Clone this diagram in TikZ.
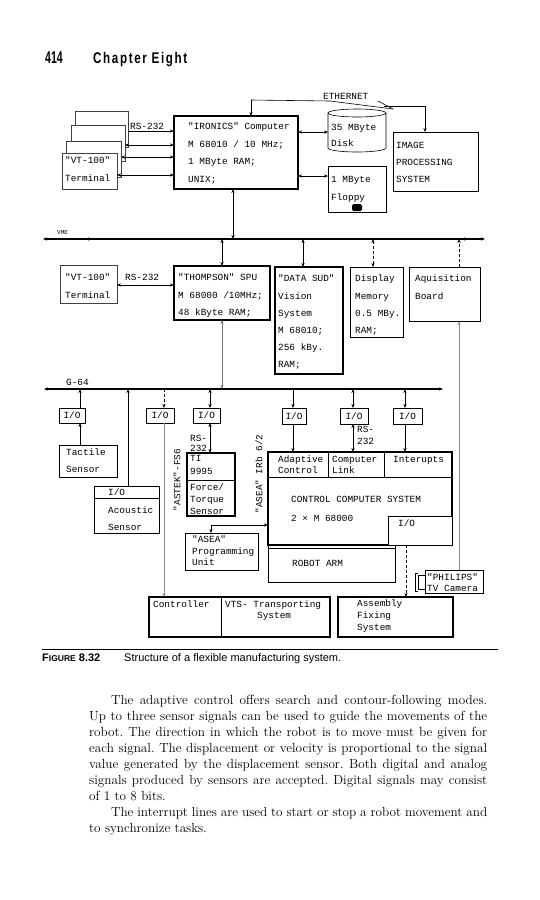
\documentclass[tikz,border=0pt]{standalone}
\usepackage{graphicx}
\usepackage{fontspec}
\setmonofont{Liberation Mono}
\newfontfamily\sans{Liberation Sans}
\newfontfamily\headfont[LetterSpace=14]{Liberation Sans}
\usetikzlibrary{arrows.meta}
\newcounter{tn}
\begin{document}
\begin{tikzpicture}[x=1pt,y=-1pt,
  >={Stealth[length=4pt,width=3.2pt]},
  box/.style={draw, line width=0.7pt, rectangle, anchor=north west, inner sep=0pt, outer sep=0pt, fill=white, font=\ttfamily\fontsize{9.4}{10}\selectfont},
  bbox/.style={box, line width=1.2pt},
  txt/.style={font=\ttfamily\fontsize{9.4}{10}\selectfont, anchor=base west, inner sep=0pt},
  ln/.style={line width=0.6pt},
  gln/.style={line width=0.6pt, draw=black!45},
  bus/.style={line width=1.2pt}]
\newcommand\mybox[6][]{\node[box,#1,minimum width={#4pt-#2pt},minimum height={#5pt-#3pt}] (#6) at (#2,#3) {};}
\newcommand\iobox[5]{\node[box,minimum width={#3pt-#1pt},minimum height={#4pt-#2pt}] (#5) at (#1,#2) {I/O};}
\newcommand\tl[4][]{\stepcounter{tn}\node[txt,#1] (t\arabic{tn}) at (#2,#3) {#4};}
\useasboundingbox[fill=white] (0,0) rectangle (539,900);

% header
\node[anchor=base west, inner sep=0pt, font=\sans\bfseries\fontsize{17}{17}\selectfont] (pgnum) at (45,63) {\scalebox{0.62}[1]{414}};
\node[anchor=base west, inner sep=0pt, font=\headfont\bfseries\fontsize{15.5}{15.5}\selectfont] (chap) at (93,63) {\scalebox{0.75}[1]{Chapter Eight}};

% ---------- top row ----------
\mybox[draw=black!75]{75}{111}{128}{147}{tA}
\mybox[draw=black!75]{71}{125}{125}{161}{tB}
\mybox[draw=black!75]{66}{141}{121}{177}{tC}
\mybox[draw=black!75]{62}{153}{117}{189}{vt1}
\tl{65}{163}{"VT-100"}
\tl{65}{181}{Terminal}
\tl{130}{129}{RS-232}

\mybox[bbox]{174}{116}{298}{189}{ironics}
\tl{188}{129}{"IRONICS" Computer}
\tl{188}{147}{M 68010 / 10 MHz;}
\tl{188}{164}{1 MByte RAM;}
\tl{188}{182}{UNIX;}

\coordinate (r1) at (0,131); \coordinate (r2) at (0,145);
\coordinate (r3) at (0,157); \coordinate (r4) at (0,175);
\draw[ln,->] (tA.east |- r1) -- (ironics.west |- r1);
\draw[ln,<->] (tB.east |- r2) -- (ironics.west |- r2);
\draw[ln,<->] (tC.east |- r3) -- (ironics.west |- r3);
\draw[ln,<->] (vt1.east |- r4) -- (ironics.west |- r4);

% disk
\node[box, draw=none, fill=none, minimum width=58pt, minimum height=40pt] (disk) at (328,111) {};
\draw[ln, fill=white] (328,113) -- (328,148) arc[start angle=180, end angle=0, x radius=29, y radius=4] -- (386,113);
\draw[ln] (357,113) ellipse[x radius=29, y radius=4];
\tl{331}{130}{35 MByte}
\tl{331}{146}{Disk}

\mybox{328}{166}{386}{212}{floppy}
\tl{331}{182}{1 MByte}
\tl{331}{200}{Floppy}
\fill[rounded corners=1.5pt] (352,204) rectangle (362,211);

\mybox{393}{132}{478}{191}{imgproc}
\tl{396}{148}{IMAGE}
\tl{396}{165}{PROCESSING}
\tl{396}{182}{SYSTEM}

\coordinate (r5) at (0,132); \coordinate (r6) at (0,176);
\draw[ln,<->] (ironics.east |- r5) -- (disk.west |- r5);
\draw[ln,<->] (ironics.east |- r6) -- (floppy.west |- r6);

% ethernet
\coordinate (eth1) at (251,100);
\coordinate (eth2) at (378,101);
\coordinate (eth3) at (393,109);
\coordinate (eth4) at (384,106);
\coordinate (eth5) at (425,106);
\draw[ln,->] (eth1) -- (ironics.north -| eth1);
\draw[ln] (eth1) -- (330,101) -- (eth3);
\draw[ln] (eth2) -- (eth3);
\draw[ln,->] (eth4) -- (eth5) -- (imgproc.north -| eth5);
\tl{323}{99}{ETHERNET}

% VME bus
\coordinate (vmeL) at (43,239); \coordinate (vmeR) at (485,239);
\draw[bus,<->] (vmeL) -- (vmeR);
\draw[bus,->] (80,239) -- (92,239);
\draw[bus,->] (455,239) -- (468,239);
\node[font=\ttfamily\fontsize{6}{6}\selectfont, anchor=base west, inner sep=0pt] (vmelab) at (57,234) {VME};
\coordinate (xI) at (233,0);
\draw[ln,<->] (ironics.south -| xI) -- (vmeL -| xI);

% ---------- second row ----------
\mybox[draw=black!75]{60}{265}{117}{303}{vt2}
\tl{65}{280}{"VT-100"}
\tl{65}{298}{Terminal}
\tl{125}{280}{RS-232}

\mybox[bbox]{174}{266}{270}{320}{thomp}
\tl{178}{280}{"THOMPSON" SPU}
\tl{178}{298}{M 68000 /10MHz;}
\tl{178}{315}{48 kByte RAM;}

\mybox[bbox]{275}{267}{343}{374}{datasud}
\tl{278}{281}{"DATA SUD"}
\tl{278}{299}{Vision}
\tl{278}{316}{System}
\tl{278}{333}{M 68010;}
\tl{278}{350}{256 kBy.}
\tl{278}{367}{RAM;}

\mybox{350}{267}{403}{337}{dispmem}
\tl{355}{281}{Display}
\tl{355}{299}{Memory}
\tl{355}{316}{0.5 MBy.}
\tl{355}{333}{RAM;}

\mybox{409}{267}{480}{321}{aquis}
\tl{415}{281}{Aquisition}
\tl{415}{299}{Board}

\coordinate (xT) at (222,0); \coordinate (xD) at (303,0);
\coordinate (xM) at (373,0); \coordinate (xA) at (459,0);
\draw[ln,<->] (vmeL -| xT) -- (thomp.north -| xT);
\draw[ln,<->] (vmeL -| xD) -- (datasud.north -| xD);
\draw[ln,<->,densely dashed] (vmeL -| xM) -- (dispmem.north -| xM);
\draw[ln,->,densely dashed] (aquis.north -| xA) -- (vmeL -| xA);
\coordinate (r7) at (0,285);
\draw[ln,<->] (vt2.east |- r7) -- (thomp.west |- r7);

% G-64 bus
\coordinate (gL) at (44,389); \coordinate (gR) at (443,389);
\draw[bus,<->] (gL) -- (gR);
\tl{66}{385}{G-64}
\draw[ln,<->,draw=black!55] (thomp.south -| xT) -- (gL -| xT);

% ---------- third row ----------
\iobox{59}{408}{85}{423}{io1}
\iobox{146}{408}{174}{423}{io2}
\iobox{193}{408}{220}{423}{io3}
\iobox{282}{408}{306}{424}{io4}
\iobox{340}{408}{368}{424}{io5}
\iobox{393}{408}{422}{424}{io6}

\mybox{59}{445}{117}{477}{tactile}
\tl{66}{455}{Tactile}
\tl{66}{472}{Sensor}

\mybox{94}{486}{159}{533}{acoustic}
\coordinate (d1) at (0,498);
\draw[ln] (acoustic.west |- d1) -- (acoustic.east |- d1);
\tl{108}{495}{I/O}
\tl{108}{513}{Acoustic}
\tl{108}{530}{Sensor}

\mybox[bbox]{187}{453}{235}{516}{ti}
\coordinate (d2) at (0,480);
\draw[line width=1pt] (ti.west |- d2) -- (ti.east |- d2);
\tl{190}{461}{TI}
\tl{190}{474}{9995}
\tl{190}{490}{Force/}
\tl{190}{502}{Torque}
\tl{190}{514}{Sensor}
\tl{190}{441}{RS-}
\tl{190}{451}{232}
\node[txt, anchor=center, rotate=90] (astek) at (177,480) {"ASTEK"-FS6};
\node[txt, anchor=center, rotate=90] (aseairb) at (259,474) {"ASEA" IRb 6/2};

\mybox{185}{533}{258}{570}{aseapu}
\tl{192}{542}{"ASEA"}
\tl{192}{554}{Programming}
\tl{192}{565}{Unit}

\mybox[bbox]{268}{452}{452}{545}{ccs}
\coordinate (h1) at (0,477);
\coordinate (v1) at (328,0); \coordinate (v2) at (384,0);
\draw[ln] (ccs.west |- h1) -- (ccs.east |- h1);
\draw[ln] (ccs.north -| v1) -- (h1 -| v1);
\draw[ln] (ccs.north -| v2) -- (h1 -| v2);
\tl{278}{462}{Adaptive}
\tl{278}{473}{Control}
\tl{332}{462}{Computer}
\tl{332}{473}{Link}
\tl{393}{462}{Interupts}
\tl{291}{502}{CONTROL COMPUTER SYSTEM}
\tl{291}{521}{2 × M 68000}
\mybox[line width=0.7pt]{388}{516}{452}{545}{ccsio}
\tl{398}{526}{I/O}
\tl{357}{432}{RS-}
\tl{357}{444}{232}

\mybox[line width=1pt]{268}{545}{395}{582}{robot}
\coordinate (h2) at (0,548);
\draw[ln] (robot.west |- h2) -- (robot.east |- h2);
\tl{292}{566}{ROBOT ARM}

\coordinate (pc) at (211,525);
\draw[ln,<->] (aseapu.north -| pc) -- (pc) -- (ccs.west |- pc);

% camera
\mybox{425}{570}{483}{593}{camera}
\draw[ln] (418,575) rectangle (425,589);
\draw[ln] (418,573) -- (415,573) -- (415,591) -- (418,591);
\tl{427}{580}{"PHILIPS"}
\tl{427}{591}{TV Camera}

% bottom row
\mybox[bbox]{149}{597}{330}{637}{ctrl}
\coordinate (v3) at (221,0);
\draw[ln] (ctrl.north -| v3) -- (ctrl.south -| v3);
\tl{153}{607}{Controller}
\tl{225}{607}{VTS- Transporting}
\tl{257}{618}{System}

\mybox[bbox]{338}{597}{453}{637}{assembly}
\tl{357}{606}{Assembly}
\tl{357}{618}{Fixing}
\tl{357}{630}{System}

% connectors row 3
\coordinate (x1) at (80,0); \coordinate (x2) at (128,0);
\coordinate (x3) at (164,0); \coordinate (x4) at (210,0);
\coordinate (x5) at (293,0); \coordinate (x6) at (353,0);
\coordinate (x7) at (405,0); \coordinate (xR) at (406,0);
\draw[ln,->] (io1.north -| x1) -- (gL -| x1);
\draw[ln,->] (tactile.north -| x1) -- (io1.south -| x1);
\draw[ln,->] (acoustic.north -| x2) -- (gL -| x2);
\draw[ln,->,densely dashed] (gL -| x3) -- (io2.north -| x3);
\draw[gln,->] (io2.south -| x3) -- (ctrl.north -| x3);
\draw[ln,<->] (gL -| x4) -- (io3.north -| x4);
\draw[ln,<->] (io3.south -| x4) -- (ti.north -| x4);
\draw[ln,->] (gL -| x5) -- (io4.north -| x5);
\draw[ln,->] (io4.south -| x5) -- (ccs.north -| x5);
\draw[ln,<->] (gL -| x6) -- (io5.north -| x6);
\draw[ln,<->] (io5.south -| x6) -- (ccs.north -| x6);
\draw[ln,<->] (gL -| x7) -- (io6.north -| x7);
\draw[ln,->] (io6.south -| x7) -- (ccs.north -| x7);
\draw[ln,->,densely dashed] (ccsio.south -| xR) -- (assembly.north -| xR);
\draw[gln,->] (camera.north -| xA) -- (aquis.south -| xA);

% caption
\coordinate (capL) at (42,649); \coordinate (capR) at (498,649);
\draw[line width=0.8pt] (capL) -- (capR);
\node[anchor=base west, inner sep=0pt, font=\sans\bfseries\fontsize{11}{11}\selectfont] (figlab) at (42,661) {F{\fontsize{8.5}{8.5}\selectfont IGURE} 8.32};
\node[anchor=base west, inner sep=0pt, font=\sans\fontsize{11}{11}\selectfont] (captxt) at (124,661) {Structure of a flexible manufacturing system.};

% body text
\node[anchor=base west, inner sep=0pt] (body) at (89,704) {\parbox[t]{398pt}{\fontsize{13.2}{16}\selectfont\frenchspacing
\hspace*{22pt}The adaptive control offers search and contour-following modes.\linebreak
Up to three sensor signals can be used to guide the movements of the\linebreak
robot. The direction in which the robot is to move must be given for\linebreak
each signal. The displacement or velocity is proportional to the signal\linebreak
value generated by the displacement sensor. Both digital and analog\linebreak
signals produced by sensors are accepted. Digital signals may consist\linebreak
of 1 to 8 bits.\par
\hspace*{22pt}The interrupt lines are used to start or stop a robot movement and\linebreak
to synchronize tasks.}};
\end{tikzpicture}
\end{document}
